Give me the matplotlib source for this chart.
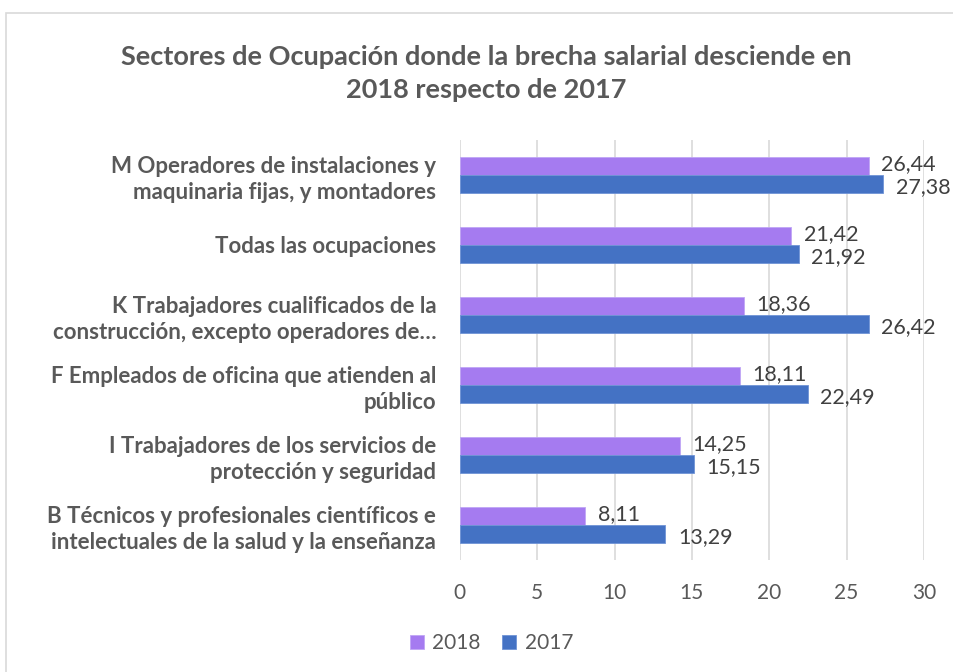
import numpy as np
import matplotlib.pyplot as plt
from matplotlib.patches import Rectangle

# data (top to bottom)
categorias = [
    "M Operadores de instalaciones y\nmaquinaria fijas, y montadores",
    "Todas las ocupaciones",
    "K Trabajadores cualificados de la\nconstrucción, excepto operadores de…",
    "F Empleados de oficina que atienden al\npúblico",
    "I Trabajadores de los servicios de\nprotección y seguridad",
    "B Técnicos y profesionales científicos e\nintelectuales de la salud y la enseñanza",
]
valores_2018 = [26.44, 21.42, 18.36, 18.11, 14.25, 8.11]
valores_2017 = [27.38, 21.92, 26.42, 22.49, 15.15, 13.29]
ticks_x = [0, 5, 10, 15, 20, 25, 30]

color_2018 = "#A57BF0"
color_2017 = "#4472C4"
gris = "#595959"

plt.rcParams['font.family'] = ['Lato', 'DejaVu Sans']

fig = plt.figure(figsize=(9.54, 6.72), dpi=100)
ax = fig.add_axes([0.482, 0.167, 0.4865, 0.625])

# chart border
fig.patches.append(Rectangle((0.006, -0.01), 1.0, 0.99, transform=fig.transFigure,
                             fill=False, edgecolor="#d9d9d9", linewidth=1.2))

y = np.arange(len(categorias))
h = 0.26
b1 = ax.barh(y - h / 2, valores_2018, height=h, color=color_2018, label="2018",
             edgecolor="#c0a6f5", linewidth=0.6)
b2 = ax.barh(y + h / 2, valores_2017, height=h, color=color_2017, label="2017",
             edgecolor="#6f93d6", linewidth=0.6)

for v, yy in zip(valores_2018, y):
    ax.text(v + 0.8, yy - h / 2 - 0.02, f"{v:.2f}".replace(".", ","), va="center",
            ha="left", fontsize=15.5, color="#404040")
for v, yy in zip(valores_2017, y):
    ax.text(v + 0.8, yy + h / 2 + 0.04, f"{v:.2f}".replace(".", ","), va="center",
            ha="left", fontsize=15.5, color="#404040")

ax.set_xlim(0, 30)
ax.set_ylim(len(categorias) - 0.5, -0.5)
ax.set_xticks(ticks_x)
ax.set_yticks(y)
ax.set_yticklabels(categorias, fontsize=16, fontweight="bold", color=gris,
                   linespacing=1.3)
ax.tick_params(axis="y", length=0, pad=17)
ax.tick_params(axis="x", length=0, pad=17, labelsize=15, labelcolor=gris)
ax.grid(axis="x", color="#d9d9d9", linewidth=1.2)
ax.set_axisbelow(True)
for s in ax.spines.values():
    s.set_visible(False)

fig.text(0.51, 0.891, "Sectores de Ocupación donde la brecha salarial desciende en\n2018 respecto de 2017",
         ha="center", va="center", fontsize=19.5, fontweight="bold", color=gris,
         linespacing=1.45)

fig.legend(handles=[b1, b2], labels=["2018", "2017"], loc="center",
           bbox_to_anchor=(0.515, 0.043), ncol=2, frameon=False, fontsize=15,
           handlelength=0.7, handleheight=0.7, handletextpad=0.4, columnspacing=1.0,
           labelcolor=gris)

fig.savefig("out.png", dpi=100)
